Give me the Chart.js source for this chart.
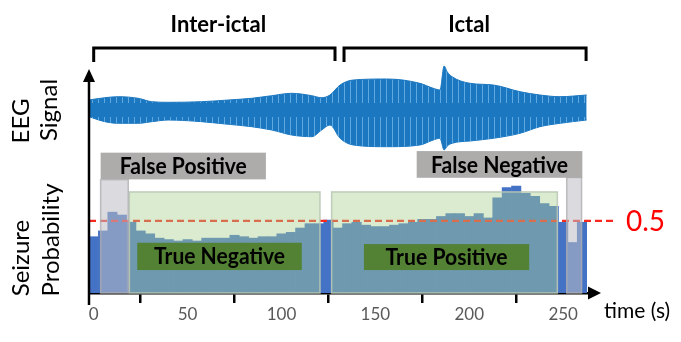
<!DOCTYPE html>
<html>
<head>
<meta charset="utf-8">
<script src="https://cdn.jsdelivr.net/npm/chart.js@4.4.1/dist/chart.umd.min.js"></script>
<style>
html,body{margin:0;padding:0;background:#fff;}
#wrap{width:681px;height:342px;position:relative;}
canvas{display:block;}
</style>
</head>
<body>
<div id="wrap"><canvas id="c" width="681" height="342"></canvas></div>
<script>
// ---------------- DATA ----------------
// time axis tick labels (s)
const timeTicks = [0, 50, 100, 150, 200, 250];
// 5-second analysis windows (centre times, s)
const binTimes = [0,5,10,15,20,25,30,35,40,45,50,55,60,65,70,75,80,85,90,95,100,105,110,115,120,125,
                  130,135,140,145,150,155,160,165,170,175,180,185,190,195,200,205,210,215,220,225,230,235,240,245,250,255,260];
// seizure probability per window
const seizureProb = [0.39,0.43,0.56,0.54,0.49,0.43,0.41,0.38,0.37,0.36,0.37,0.36,0.38,0.38,0.38,0.40,0.39,0.38,0.39,0.39,0.41,0.42,0.45,0.48,0.48,0.505,
                     0.45,0.48,0.49,0.47,0.46,0.46,0.47,0.48,0.49,0.51,0.51,0.53,0.55,0.55,0.53,0.55,0.52,0.66,0.73,0.74,0.69,0.67,0.62,0.60,0.49,0.35,0.49];
// decision threshold
const threshold = 0.5;
// EEG envelope (time in s, upper / lower amplitude in arbitrary units)
const eegTime  = [-2.5, 6.0, 13.1, 23.7, 30.9, 39.7, 57.5, 71.7, 84.1, 94.8, 105.4, 116.1, 121.4, 125.8, 131.2, 138.2, 156.0, 173.7, 180.8, 184.4, 186.6, 188.3, 190.8, 200.4, 212.8, 227.0, 237.6, 248.3, 262.5];
const eegUpper = [6, 8.3, 9.3, 7.7, 4.3, 3.7, 4.3, 6, 7.7, 10.3, 12.7, 10.3, 8.3, 11, 21, 26, 27, 22.7, 17.7, 16, 40, 34, 29.3, 22.7, 21, 14.3, 11, 9.3, 11];
const eegLower = [-10.7, -15.7, -17.3, -17.3, -15.7, -14, -15.7, -18.3, -20.7, -24, -29, -30.7, -24, -19, -32.3, -39, -40.7, -39, -34, -32.3, -44, -40, -37.3, -35, -32.3, -27.3, -20.7, -17.3, -14];
// phases (s)
const phaseNames  = ['Inter-ictal', 'Ictal'];
const phaseStart  = [0, 133.3];
const phaseEnd    = [128.5, 262.2];

// ---------------- STYLE / ANNOTATION LAYOUT ----------------
const BLUE = '#4472C4';
const overlays = [
  {t0: 19.0,  t1: 120.5, top: 0.70, fill: 'rgba(169,208,142,0.42)', stroke: 'rgba(185,200,180,0.9)'},
  {t0: 126.7, t1: 246.9, top: 0.70, fill: 'rgba(169,208,142,0.42)', stroke: 'rgba(185,200,180,0.9)'},
  {t0: 3.7,   t1: 18.4,  top: 0.785, fill: 'rgba(190,190,196,0.55)', stroke: 'rgba(175,175,178,0.8)'},
  {t0: 251.9, t1: 259.8, top: 0.80, fill: 'rgba(190,190,196,0.55)', stroke: 'rgba(175,175,178,0.8)'}
];
const labelBoxes = [
  {text: 'False Positive', t0: 3.7,   t1: 91.7,  p0: 0.787, p1: 0.972, fill: '#aeabab', w: 127},
  {text: 'False Negative', t0: 172.0, t1: 260.2, p0: 0.798, p1: 0.983, fill: '#aeabab', w: 137},
  {text: 'True Negative',  t0: 23.2,  t1: 110.8, p0: 0.159, p1: 0.348, fill: '#548235', w: 131},
  {text: 'True Positive',  t0: 143.9, t1: 231.9, p0: 0.159, p1: 0.339, fill: '#548235', w: 122}
];
const FONT = 'Lato, "Open Sans", sans-serif';

function stripePattern(ctx) {
  const c = document.createElement('canvas');
  c.width = 6; c.height = 342;
  const g = c.getContext('2d');
  g.fillStyle = '#1a77c0';
  g.fillRect(0, 0, 6, 342);
  g.fillStyle = 'rgba(120,185,235,0.75)';
  g.fillRect(2, 0, 1, 103);
  g.fillRect(2, 117, 1, 225);
  return ctx.createPattern(c, 'repeat');
}

const decor = {
  id: 'decor',
  afterDatasetsDraw(chart) {
    const {ctx, chartArea: a, scales: {x, y}} = chart;
    // threshold line
    const yT = y.getPixelForValue(threshold);
    ctx.save();
    ctx.strokeStyle = '#f8281e';
    ctx.lineWidth = 2.3;
    ctx.setLineDash([7, 4]);
    ctx.beginPath();
    ctx.moveTo(a.left, yT);
    ctx.lineTo(614, yT);
    ctx.stroke();
    ctx.restore();
    // shaded regions
    ctx.save();
    for (const r of overlays) {
      const x0 = x.getPixelForValue(r.t0), x1 = x.getPixelForValue(r.t1);
      const y0 = y.getPixelForValue(r.top), y1 = y.getPixelForValue(0);
      ctx.fillStyle = r.fill;
      ctx.fillRect(x0, y0, x1 - x0, y1 - y0);
      ctx.strokeStyle = r.stroke;
      ctx.lineWidth = 1.5;
      ctx.strokeRect(x0, y0, x1 - x0, y1 - y0);
    }
    // label boxes
    for (const b of labelBoxes) {
      const x0 = x.getPixelForValue(b.t0), x1 = x.getPixelForValue(b.t1);
      const y0 = y.getPixelForValue(b.p1), y1 = y.getPixelForValue(b.p0);
      ctx.fillStyle = b.fill;
      ctx.fillRect(x0, y0, x1 - x0, y1 - y0);
      ctx.fillStyle = '#000';
      ctx.font = 'bold 22px ' + FONT;
      ctx.textAlign = 'center';
      ctx.textBaseline = 'middle';
      ctx.fillText(b.text, (x0 + x1) / 2, (y0 + y1) / 2 + 1, b.w);
    }
    ctx.restore();
  },
  afterDraw(chart) {
    const {ctx, chartArea: a, scales: {x, y}} = chart;
    ctx.save();
    ctx.strokeStyle = '#000';
    ctx.fillStyle = '#000';
    // y axis with arrow
    ctx.lineWidth = 2.5;
    ctx.beginPath();
    ctx.moveTo(a.left, 305);
    ctx.lineTo(a.left, 80);
    ctx.stroke();
    ctx.beginPath();
    ctx.moveTo(a.left, 69);
    ctx.lineTo(a.left - 6, 82);
    ctx.lineTo(a.left + 6, 82);
    ctx.closePath();
    ctx.fill();
    // x axis arrow
    const yb = a.bottom;
    ctx.beginPath();
    ctx.moveTo(601, yb);
    ctx.lineTo(588, yb - 6.5);
    ctx.lineTo(588, yb + 6.5);
    ctx.closePath();
    ctx.fill();
    // phase brackets
    ctx.lineWidth = 3;
    const by = 48;
    for (let i = 0; i < phaseNames.length; i++) {
      const x0 = x.getPixelForValue(phaseStart[i]), x1 = x.getPixelForValue(phaseEnd[i]);
      ctx.beginPath();
      ctx.moveTo(x0, 62);
      ctx.lineTo(x0, by);
      ctx.lineTo(x1, by);
      ctx.lineTo(x1, 61);
      ctx.stroke();
      ctx.font = 'bold 22px ' + FONT;
      ctx.textAlign = 'center';
      ctx.textBaseline = 'middle';
      ctx.fillText(phaseNames[i], (x0 + x1) / 2 + 4, 25);
    }
    // left titles (rotated)
    const rot = (txt, cx, cy, size) => {
      ctx.save();
      ctx.translate(cx, cy);
      ctx.rotate(-Math.PI / 2);
      ctx.font = size + 'px ' + FONT;
      ctx.textAlign = 'center';
      ctx.textBaseline = 'middle';
      ctx.fillText(txt, 0, 0);
      ctx.restore();
    };
    rot('EEG', 21, 121, 24);
    rot('Signal', 49, 110, 24);
    rot('Seizure', 21, 258, 24);
    rot('Probability', 51, 240, 24);
    // axis title
    ctx.font = '21px ' + FONT;
    ctx.textAlign = 'left';
    ctx.textBaseline = 'middle';
    ctx.fillText('time (s)', 604, 311);
    // threshold label
    ctx.fillStyle = '#ff0000';
    ctx.font = '28px ' + FONT;
    ctx.fillText(String(threshold), 626, y.getPixelForValue(threshold) + 1);
    ctx.restore();
  }
};

const cvs = document.getElementById('c');
const ctx = cvs.getContext('2d');
const pattern = stripePattern(ctx);

new Chart(ctx, {
  type: 'bar',
  data: {
    datasets: [
      {
        type: 'line', label: 'EEG upper', yAxisID: 'yE', xAxisID: 'x',
        data: eegTime.map((t, i) => ({x: t, y: eegUpper[i]})),
        borderColor: '#1a77c0', borderWidth: 1, pointRadius: 0,
        cubicInterpolationMode: 'monotone',
        fill: '+1', backgroundColor: pattern
      },
      {
        type: 'line', label: 'EEG lower', yAxisID: 'yE', xAxisID: 'x',
        data: eegTime.map((t, i) => ({x: t, y: eegLower[i]})),
        borderColor: '#1a77c0', borderWidth: 1, pointRadius: 0,
        cubicInterpolationMode: 'monotone', fill: false
      },
      {
        type: 'bar', label: 'Seizure probability', yAxisID: 'y', xAxisID: 'x',
        data: binTimes.map((t, i) => ({x: t, y: seizureProb[i]})),
        backgroundColor: BLUE, borderWidth: 0,
        barPercentage: 1, categoryPercentage: 1
      }
    ]
  },
  options: {
    responsive: false,
    animation: false,
    layout: {padding: {left: 89, right: 89, top: 62, bottom: 0}},
    plugins: {legend: {display: false}, tooltip: {enabled: false}},
    scales: {
      x: {
        type: 'linear', min: -2.5, max: 265.35, offset: false, z: 1,
        afterFit: s => { s.height = 49; },
        afterBuildTicks: s => { s.ticks = timeTicks.map(v => ({value: v})); },
        grid: {
          drawOnChartArea: false, drawTicks: true, tickLength: 10, lineWidth: 2.5,
          color: '#000',
          tickColor: c => (c.tick && c.tick.value === 0) ? 'rgba(0,0,0,0)' : '#000'
        },
        border: {display: true, color: '#000', width: 2.5},
        ticks: {color: '#595959', font: {family: FONT, size: 17}, padding: 1, maxRotation: 0, autoSkip: false}
      },
      y: {type: 'linear', min: 0, max: 1.6, display: false},
      yE: {type: 'linear', min: -187, max: 44, display: false}
    }
  },
  plugins: [decor]
});
</script>
</body>
</html>
